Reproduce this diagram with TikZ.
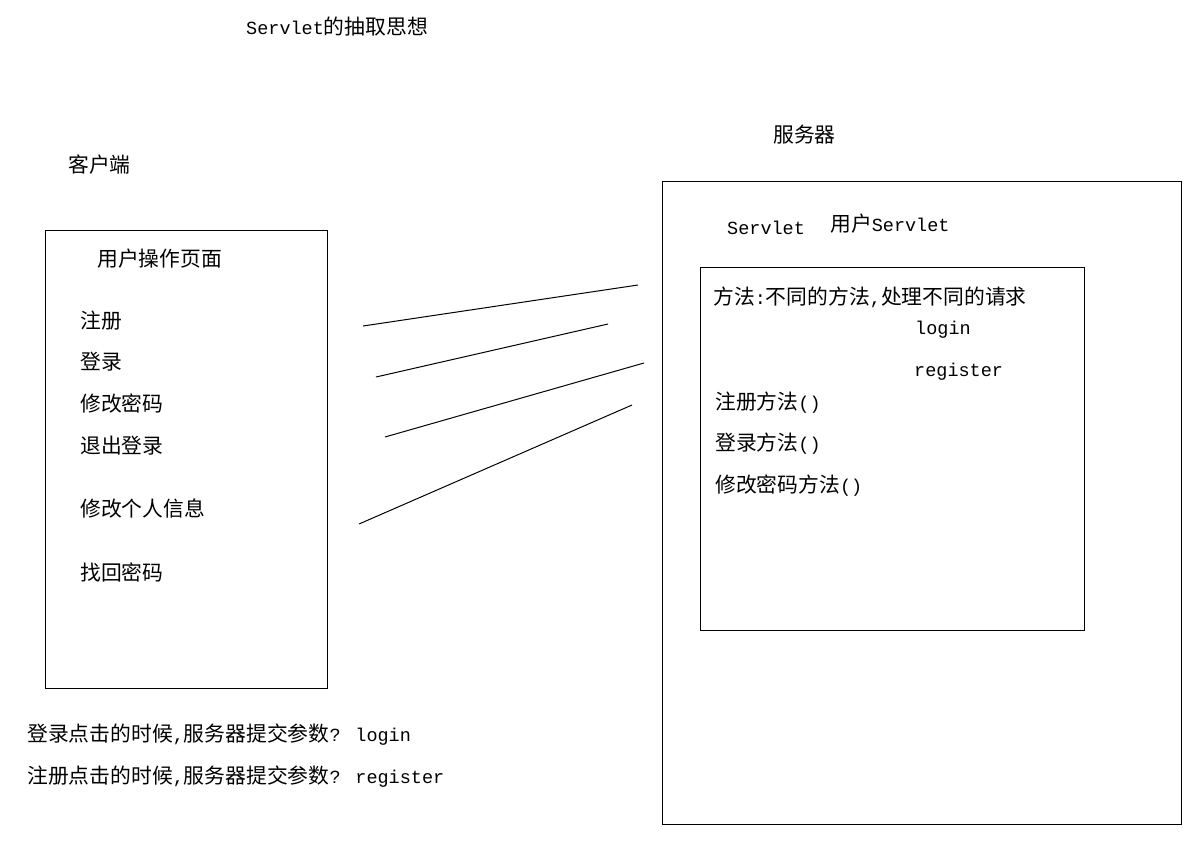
\documentclass[tikz,border=0pt]{standalone}
\usepackage{fontspec}
\newfontfamily\cjk{Noto Sans CJK SC}
\newfontfamily\mn{Liberation Mono}
\newcommand{\M}[1]{{\mn\fontsize{18.5}{20}\selectfont #1}}
\begin{document}
\begin{tikzpicture}[x=1pt,y=-1pt,
  txt/.style={anchor=west,inner sep=0pt,font=\cjk\fontsize{20.8}{22}\selectfont},
  box/.style={draw,line width=1pt},
  ln/.style={line width=1pt}]
\useasboundingbox (0,0) rectangle (1204,847);
\fill[white] (0,0) rectangle (1204,847);
% title and headings
\node[txt] (title) at (246,27) {\M{Servlet}的抽取思想};
\node[txt] (server) at (773,135) {服务器};
\node[txt] (client) at (68,165) {客户端};
% client box
\draw[box] (45,230) rectangle (327,688);
\node[txt] (page) at (97,259) {用户操作页面};
\node[txt] (reg) at (80,321) {注册};
\node[txt] (log) at (80,362) {登录};
\node[txt] (pwd) at (80,404) {修改密码};
\node[txt] (out) at (80,446) {退出登录};
\node[txt] (info) at (80,509) {修改个人信息};
\node[txt] (find) at (80,572) {找回密码};
% server boxes
\draw[box] (662,181) rectangle (1181,824);
\node[txt] (sv) at (727,228) {\M{Servlet}};
\node[txt] (usv) at (830,224) {用户\M{Servlet}};
\draw[box] (700,267) rectangle (1084,630);
\node[txt] (meth) at (713,297) {方法\M{:}不同的方法\M{,}处理不同的请求};
\node[txt] (login) at (915,330) {\M{login}};
\node[txt] (register) at (914,372) {\M{register}};
\node[txt] (m1) at (715,403) {注册方法\M{()}};
\node[txt] (m2) at (715,444) {登录方法\M{()}};
\node[txt] (m3) at (715,486) {修改密码方法\M{()}};
% bottom notes
\node[txt] (n1) at (27,735) {登录点击的时候\M{,}服务器提交参数\M{? login}};
\node[txt] (n2) at (27,777) {注册点击的时候\M{,}服务器提交参数\M{? register}};
% connector lines
\coordinate (a1) at (363,326); \coordinate (b1) at (638,285);
\coordinate (a2) at (376,377); \coordinate (b2) at (608,324);
\coordinate (a3) at (385,437); \coordinate (b3) at (644,363);
\coordinate (a4) at (359,524); \coordinate (b4) at (632,405);
\draw[ln] (a1) -- (b1);
\draw[ln] (a2) -- (b2);
\draw[ln] (a3) -- (b3);
\draw[ln] (a4) -- (b4);
\end{tikzpicture}
\end{document}
